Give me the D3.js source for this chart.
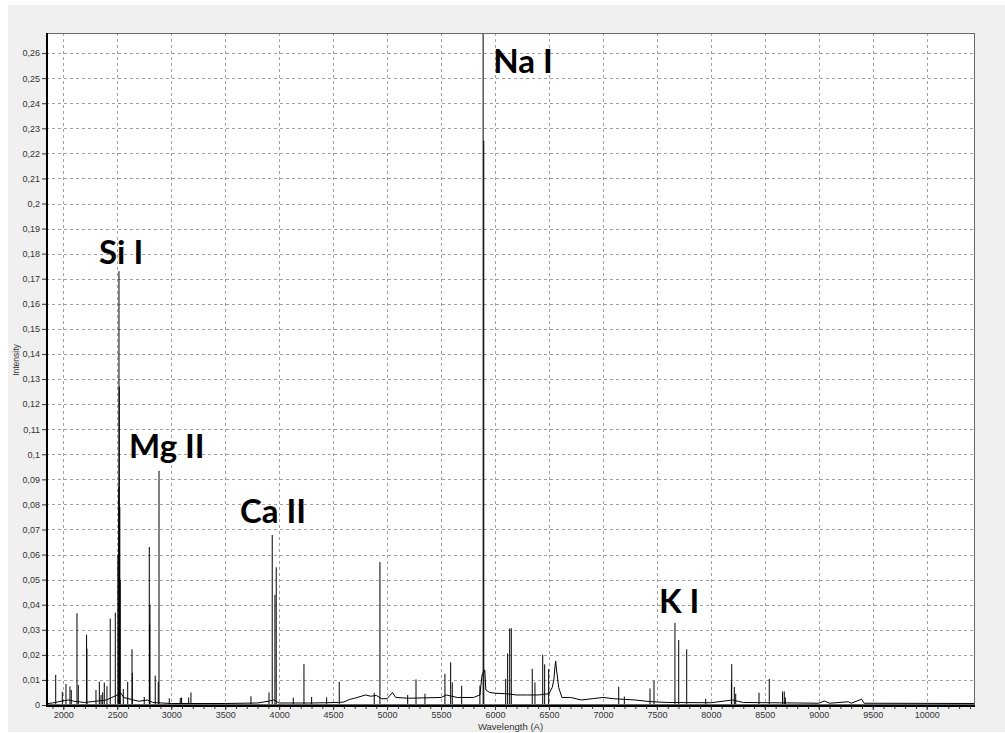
<!DOCTYPE html>
<html>
<head>
<meta charset="utf-8">
<script src="https://cdn.jsdelivr.net/npm/d3@7"></script>
<style>
  body { margin: 0; background: #fff; }
  svg { display: block; }
</style>
</head>
<body>
<div id="spectrum"></div>
<script>
// tick values
const xTicks = [2000, 2500, 3000, 3500, 4000, 4500, 5000, 5500, 6000, 6500, 7000, 7500, 8000, 8500, 9000, 9500, 10000]
const yTicks = [0, 0.01, 0.02, 0.03, 0.04, 0.05, 0.06, 0.07, 0.08, 0.09, 0.1, 0.11, 0.12, 0.13,
  0.14, 0.15, 0.16, 0.17, 0.18, 0.19, 0.2, 0.21, 0.22, 0.23, 0.24, 0.25, 0.26]

// slowly varying background of the spectrum [wavelength, intensity]
const continuum = [
  [1840, 0.0005], [1900, 0.0008], [1980, 0.0015], [2050, 0.002], [2100, 0.0015],
  [2200, 0.001], [2300, 0.0015], [2400, 0.002], [2450, 0.003], [2500, 0.004],
  [2530, 0.005], [2560, 0.003], [2650, 0.002], [2700, 0.0015], [2780, 0.002],
  [2830, 0.001], [3000, 0.0006], [3500, 0.0006], [3800, 0.0008], [3900, 0.0015],
  [3950, 0.002], [4000, 0.0008], [4300, 0.0008], [4550, 0.001], [4600, 0.0012],
  [4650, 0.0022], [4700, 0.0027], [4800, 0.004], [4850, 0.0035], [4900, 0.0038],
  [4950, 0.0025], [5000, 0.0025], [5050, 0.005], [5080, 0.003], [5200, 0.0027],
  [5500, 0.003], [5550, 0.004], [5650, 0.003], [5800, 0.003], [5860, 0.004],
  [5880, 0.012], [5905, 0.014], [5915, 0.006], [5950, 0.005], [6000, 0.0047],
  [6100, 0.0045], [6200, 0.004], [6300, 0.004], [6400, 0.004], [6500, 0.0045],
  [6530, 0.007], [6545, 0.01], [6555, 0.015], [6562, 0.0175], [6570, 0.014],
  [6590, 0.007], [6620, 0.003], [6700, 0.003], [6800, 0.002], [6900, 0.0025],
  [7000, 0.003], [7100, 0.0025], [7300, 0.002], [7400, 0.0015], [7500, 0.0012],
  [7600, 0.001], [8000, 0.0009], [8200, 0.002], [8300, 0.001], [8800, 0.0008],
  [9000, 0.0007], [9050, 0.0016], [9100, 0.0007], [9273, 0.0013], [9300, 0.0007],
  [9397, 0.0023], [9420, 0.0007], [10447, 0.0006]
]

// emission lines [wavelength, peak intensity]
const emissionLines = [
  [1930, 0.012], [1991, 0.0053], [2025, 0.0084], [2062, 0.0074], [2074, 0.006],
  [2127, 0.0366], [2139, 0.008], [2216, 0.028], [2219, 0.0225], [2303, 0.006],
  [2334, 0.0093], [2350, 0.004], [2365, 0.005], [2380, 0.0089], [2405, 0.0075],
  [2435, 0.0345], [2482, 0.0368], [2506, 0.06], [2514, 0.087], [2516, 0.173],
  [2519, 0.127], [2524, 0.079], [2528, 0.05], [2556, 0.0064], [2597, 0.0093],
  [2637, 0.0222], [2640, 0.0128], [2750, 0.0032], [2797, 0.063], [2800, 0.032],
  [2803, 0.04], [2852, 0.0117], [2880, 0.0093], [2887, 0.0934], [2982, 0.0027],
  [3084, 0.0028], [3096, 0.003], [3162, 0.003], [3183, 0.005], [3739, 0.0035],
  [3906, 0.005], [3936, 0.0678], [3961, 0.0439], [3973, 0.0549], [4131, 0.0029],
  [4230, 0.0163], [4301, 0.0032], [4440, 0.003], [4557, 0.0092], [4881, 0.0049],
  [4934, 0.057], [5191, 0.004], [5268, 0.0102], [5351, 0.0045], [5536, 0.0124],
  [5589, 0.017], [5604, 0.009], [5691, 0.0077], [5860, 0.0077], [5890, 0.28],
  [5896, 0.225], [6099, 0.0104], [6117, 0.0206], [6136, 0.0306], [6151, 0.0306],
  [6345, 0.0144], [6370, 0.009], [6442, 0.02], [6460, 0.0162], [6497, 0.0143],
  [7146, 0.0073], [7198, 0.0034], [7436, 0.0066], [7473, 0.0097], [7667, 0.0328],
  [7702, 0.0259], [7776, 0.0222], [7952, 0.0025], [8190, 0.009], [8193, 0.0163],
  [8217, 0.0072], [8230, 0.0045], [8446, 0.0049], [8541, 0.0104], [8664, 0.0054],
  [8680, 0.0054], [8690, 0.003]
]

// element labels [text, wavelength, intensity]
const elementLabels = [
  ['Si I', 2331, 0.176],
  ['Mg II', 2609, 0.0984],
  ['Ca II', 3637, 0.0726],
  ['Na I', 5984, 0.2519],
  ['K I', 7519, 0.0366]
]

const width = 1005
const height = 733
const plot = { left: 46, right: 975, top: 33, bottom: 705 }

const svg = d3
  .select('#spectrum')
  .append('svg')
  .attr('width', width)
  .attr('height', height)

// window background
svg
  .append('rect')
  .attr('x', 8)
  .attr('y', 5)
  .attr('width', width - 8)
  .attr('height', height - 6)
  .attr('fill', '#f0f0f0')

svg
  .append('rect')
  .attr('x', plot.left)
  .attr('y', plot.top)
  .attr('width', plot.right - plot.left)
  .attr('height', plot.bottom - plot.top)
  .attr('fill', '#fff')

const x = d3
  .scaleLinear()
  .domain([1840, 10447])
  .range([plot.left, plot.right])

const y = d3
  .scaleLinear()
  .domain([0, 0.268])
  .range([plot.bottom, plot.top])

const commaFormat = d3.formatLocale({
  decimal: ',',
  thousands: '.',
  grouping: [3],
  currency: ['', '']
}).format('~g')

// grid
const grid = svg.append('g').attr('stroke', '#a0a0a0').attr('stroke-dasharray', '3,3')
grid
  .selectAll('line.h')
  .data(yTicks.filter(d => d > 0))
  .enter()
  .append('line')
  .attr('x1', plot.left)
  .attr('x2', plot.right)
  .attr('y1', d => Math.round(y(d)) + 0.5)
  .attr('y2', d => Math.round(y(d)) + 0.5)
grid
  .selectAll('line.v')
  .data(xTicks)
  .enter()
  .append('line')
  .attr('y1', plot.top)
  .attr('y2', plot.bottom)
  .attr('x1', d => Math.round(x(d)) + 0.5)
  .attr('x2', d => Math.round(x(d)) + 0.5)

svg
  .append('clipPath')
  .attr('id', 'plot-clip')
  .append('rect')
  .attr('x', plot.left)
  .attr('y', plot.top)
  .attr('width', plot.right - plot.left)
  .attr('height', plot.bottom - plot.top)

const spectrum = svg.append('g').attr('clip-path', 'url(#plot-clip)')

spectrum
  .append('path')
  .datum(continuum)
  .attr('fill', 'none')
  .attr('stroke', '#000')
  .attr('stroke-width', 1)
  .attr('d', d3.line().x(d => x(d[0])).y(d => y(d[1])))

spectrum
  .selectAll('line.em')
  .data(emissionLines)
  .enter()
  .append('line')
  .attr('stroke', '#000')
  .attr('stroke-width', 1)
  .attr('x1', d => x(d[0]))
  .attr('x2', d => x(d[0]))
  .attr('y1', y(0))
  .attr('y2', d => y(d[1]))

// plot frame
svg
  .append('rect')
  .attr('x', plot.left + 0.5)
  .attr('y', plot.top + 0.5)
  .attr('width', plot.right - plot.left - 1)
  .attr('height', plot.bottom - plot.top - 1)
  .attr('fill', 'none')
  .attr('stroke', '#6a6a6a')

svg
  .append('path')
  .attr('d', `M${plot.left + 1},${plot.top}V${plot.bottom + 1}H${plot.right}`)
  .attr('fill', 'none')
  .attr('stroke', '#000')
  .attr('stroke-width', 2)

// y axis
const yAxis = svg
  .append('g')
  .attr('transform', `translate(${plot.left},0)`)
  .call(d3.axisLeft(y).tickValues(yTicks).tickSize(4).tickPadding(2).tickFormat(commaFormat))
yAxis.select('.domain').remove()
yAxis.selectAll('line').attr('stroke', '#333')
yAxis
  .selectAll('text')
  .attr('fill', '#333')
  .style('font-family', 'Liberation Sans, Arial, sans-serif')
  .style('font-size', '9px')

// x axis, minor ticks every 100
const xMinor = svg
  .append('g')
  .attr('transform', `translate(0,${plot.bottom + 1})`)
  .call(d3.axisBottom(x).tickValues(d3.range(1900, 10401, 100)).tickSize(3).tickFormat(''))
xMinor.select('.domain').remove()
xMinor.selectAll('line').attr('stroke', '#333')

const xAxis = svg
  .append('g')
  .attr('transform', `translate(0,${plot.bottom + 1})`)
  .call(d3.axisBottom(x).tickValues(xTicks).tickSize(4).tickPadding(2).tickFormat(d => String(d)))
xAxis.select('.domain').remove()
xAxis.selectAll('line').attr('stroke', '#333')
xAxis
  .selectAll('text')
  .attr('fill', '#333')
  .style('font-family', 'Liberation Sans, Arial, sans-serif')
  .style('font-size', '9px')

// axis titles
svg
  .append('text')
  .attr('x', (plot.left + plot.right) / 2)
  .attr('y', 730)
  .attr('text-anchor', 'middle')
  .attr('fill', '#333')
  .style('font-family', 'Liberation Sans, Arial, sans-serif')
  .style('font-size', '9.5px')
  .text('Wavelength (A)')

svg
  .append('text')
  .attr('transform', 'translate(18.5,360) rotate(-90)')
  .attr('text-anchor', 'middle')
  .attr('fill', '#333')
  .style('font-family', 'Liberation Sans, Arial, sans-serif')
  .style('font-size', '8.5px')
  .text('Intensity')

// element labels
svg
  .selectAll('text.element')
  .data(elementLabels)
  .enter()
  .append('text')
  .attr('class', 'element')
  .attr('x', d => x(d[1]))
  .attr('y', d => y(d[2]))
  .attr('fill', '#000')
  .style('font-family', 'Lato, sans-serif')
  .style('font-weight', 'bold')
  .style('font-size', '33px')
  .text(d => d[0])
</script>
</body>
</html>
